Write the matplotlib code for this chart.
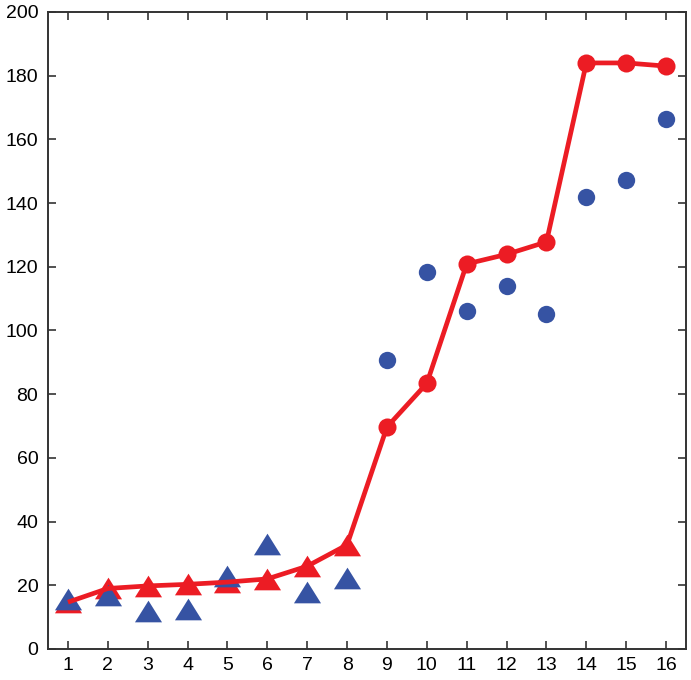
import matplotlib.pyplot as plt

x = list(range(1, 17))
red_vals = [14.7, 19.0, 19.8, 20.3, 21.0, 22.0, 26.0, 32.7,
            69.7, 83.4, 120.9, 123.9, 127.8, 184.0, 184.0, 183.0]
blue_vals = [15.7, 16.8, 12.0, 12.6, 22.8, 33.0, 18.0, 22.2,
             90.6, 118.3, 106.0, 113.9, 105.3, 142.0, 147.4, 166.4]
tri_n = 8  # first 8 points drawn as triangles, rest as circles

red = "#ec1c24"
blue = "#3653a3"

plt.rcParams['font.family'] = ['Liberation Sans', 'DejaVu Sans']

fig = plt.figure(figsize=(6.91, 6.8), dpi=100)
ax = fig.add_axes([0.0695, 0.0456, 0.9233, 0.9368])

tri = [(-1, -0.8), (1, -0.8), (0, 0.8), (-1, -0.8)]

# red markers, then blue markers on top, then the red line on top of all
ax.plot(x[:tri_n], red_vals[:tri_n], linestyle="none", marker=tri,
        markersize=19.5, color=red, markeredgewidth=0, zorder=2)
ax.plot(x[tri_n:], red_vals[tri_n:], linestyle="none", marker="o",
        markersize=13, color=red, markeredgewidth=0, zorder=2)
ax.plot(x[:tri_n], blue_vals[:tri_n], linestyle="none", marker=tri,
        markersize=19.5, color=blue, markeredgewidth=0, zorder=3)
ax.plot(x[tri_n:], blue_vals[tri_n:], linestyle="none", marker="o",
        markersize=12.5, color=blue, markeredgewidth=0, zorder=3)
ax.plot(x, red_vals, color=red, linewidth=3.4, zorder=4,
        solid_capstyle="butt")

ax.set_xlim(0.5, 16.5)
ax.set_ylim(0, 200)
ax.set_xticks(x)
ax.set_yticks(range(0, 201, 20))

for s in ax.spines.values():
    s.set_linewidth(1.4)
    s.set_color("#333333")
ax.tick_params(direction="in", top=True, right=True, length=6, width=1.2,
               color="#333333", labelsize=14)
ax.tick_params(axis="x", pad=6)
ax.tick_params(axis="y", pad=7)

fig.savefig("out.png", dpi=100)
